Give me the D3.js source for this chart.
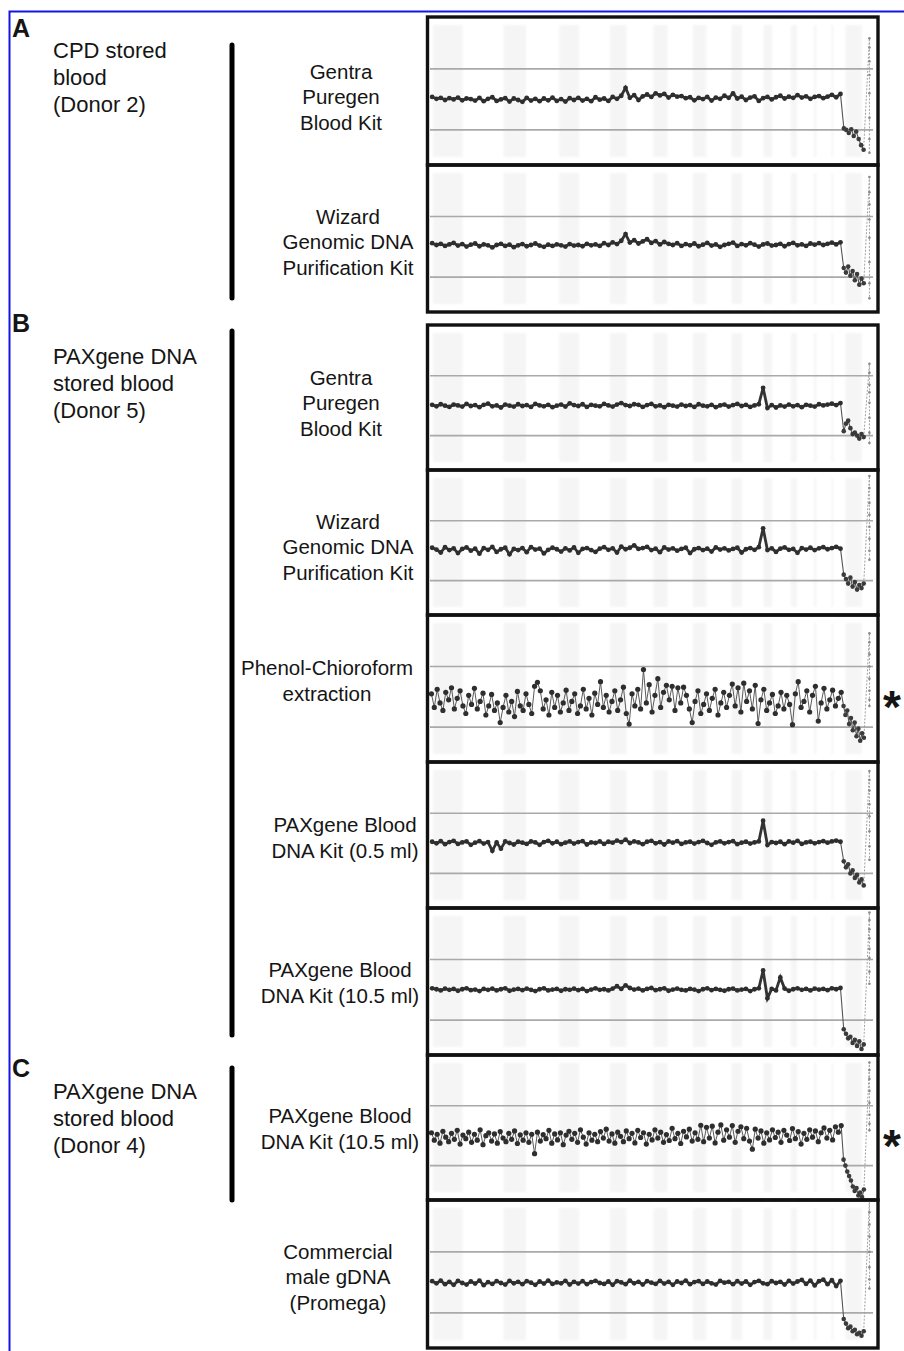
<!DOCTYPE html>
<meta charset="utf-8">
<style>
  body { margin:0; background:#fff; }
  text { font-family: "Liberation Sans", Arial, sans-serif; fill:#151515; }
</style>
<svg width="904" height="1351"></svg>
<script src="https://d3js.org/d3.v7.min.js"></script>
<script>

// chromosome lengths, Mb
var chromosomes = ["1","2","3","4","5","6","7","8","9","10","11","12","13","14","15","16","17","18","19","20","21","22","X","Y"];
var chromLength = [249,243,198,191,181,171,159,146,141,136,135,134,115,107,102,90,83,78,59,63,48,51,155,57];

// reference lines (log2 ratio)
var gridLines = [1, -1];

// log2 ratios: autosomes (evenly spaced), X, Y
var a1Auto = [0.08,0.02,0.05,-0.02,0.04,0.00,0.06,-0.03,0.03,0.01,
  -0.04,0.05,-0.06,0.02,0.07,-0.05,0.00,0.04,-0.07,0.03,
  -0.02,-0.08,0.05,-0.04,0.02,-0.06,0.03,-0.03,0.06,-0.05,
  0.01,-0.07,0.04,-0.02,0.05,-0.04,0.02,-0.06,0.07,-0.01,
  0.03,-0.05,0.08,0.02,0.12,0.38,0.05,0.14,-0.02,0.10,
  0.16,0.08,0.20,0.13,0.18,0.06,0.15,0.09,0.11,0.04,
  0.07,-0.03,0.05,0.01,0.08,-0.04,0.06,0.02,0.12,0.05,
  0.20,0.03,0.09,-0.02,0.06,0.10,-0.05,0.04,0.08,0.00,
  0.07,0.12,0.03,0.09,0.05,0.14,0.06,0.10,0.02,0.08,
  0.11,0.04,0.09,0.15,0.07,0.18];
var a1X = [-0.95,-1.0,-1.1,-0.98,-1.2,-1.05,-1.3,-1.5,-1.65];
var a1Y = [2.0,1.7,1.25,0.8,0.2,-0.6,-1.3,-1.75];

var a2Auto = [0.12,0.06,0.10,0.03,0.08,0.13,0.04,0.09,0.01,0.07,
  0.11,0.02,0.08,0.05,-0.02,0.06,0.10,0.03,0.07,-0.01,
  0.05,0.09,0.02,0.06,0.11,0.04,0.00,0.07,0.03,0.08,
  0.05,0.01,0.09,0.04,0.06,0.02,0.10,0.05,0.08,0.03,
  0.12,0.06,0.15,0.09,0.20,0.42,0.14,0.22,0.11,0.18,
  0.25,0.13,0.19,0.08,0.16,0.10,0.06,0.12,0.03,0.09,
  0.05,0.11,0.02,0.07,0.13,0.04,0.08,0.00,0.06,0.10,
  0.14,0.03,0.09,0.05,0.12,0.07,0.01,0.08,0.11,0.04,
  0.06,0.10,0.02,0.09,0.13,0.05,0.08,0.03,0.11,0.07,
  0.12,0.06,0.10,0.14,0.08,0.15];
var a2X = [-0.7,-0.85,-0.65,-0.95,-0.8,-1.1,-0.9,-1.25,-1.05,-1.2];
var a2Y = [2.3,1.8,1.4,0.9,0.3,-0.5,-1.2,-1.7];

var b1Auto = [0.03,-0.02,0.05,0.00,-0.04,0.04,0.01,-0.03,0.06,-0.01,
  0.02,-0.05,0.03,0.07,-0.02,0.01,-0.06,0.04,0.00,-0.03,
  0.05,-0.01,0.02,-0.04,0.06,0.01,-0.02,0.03,-0.05,0.00,
  0.04,-0.03,0.08,0.02,-0.01,0.05,-0.04,0.03,0.00,-0.02,
  0.06,0.01,-0.03,0.04,0.09,0.02,-0.01,0.05,0.03,-0.04,
  0.02,0.06,-0.02,0.01,-0.05,0.03,0.00,-0.03,0.04,-0.01,
  0.02,-0.04,0.05,0.00,-0.02,0.03,-0.05,0.01,0.04,-0.03,
  0.02,0.06,-0.01,0.03,-0.04,0.01,0.05,0.60,-0.08,0.02,
  -0.06,0.01,-0.03,0.04,-0.02,0.02,-0.05,0.03,0.00,-0.03,
  0.05,0.01,0.04,0.07,0.02,0.09];
var b1X = [-0.85,-0.6,-0.5,-0.75,-0.95,-0.9,-1.0,-1.1,-0.95,-1.05];
var b1Y = [1.4,1.1,0.7,0.45,0.1,-0.4,-0.9,-1.25];

var b2Auto = [0.10,0.04,-0.06,0.12,0.02,0.08,-0.08,0.06,0.11,0.00,
  0.07,-0.10,0.09,0.03,0.13,-0.04,0.05,0.10,-0.12,0.06,
  0.02,0.09,-0.05,0.12,0.04,0.07,-0.09,0.03,0.10,0.05,
  -0.03,0.08,0.01,0.11,-0.07,0.06,0.09,0.02,-0.04,0.07,
  0.12,0.03,0.08,-0.06,0.14,0.05,0.10,0.18,0.06,0.09,
  0.13,0.02,0.07,-0.05,0.11,0.04,0.08,0.00,0.06,0.10,
  -0.08,0.05,0.09,0.02,0.07,-0.03,0.11,0.04,0.08,0.01,
  0.06,0.10,-0.06,0.05,0.09,0.03,0.12,0.75,0.02,0.08,
  -0.04,0.07,0.11,0.03,0.06,-0.07,0.09,0.04,0.10,0.02,
  0.08,0.12,0.05,0.09,0.13,0.07];
var b2X = [-0.8,-0.95,-1.1,-0.9,-1.2,-1.05,-1.3,-1.15,-1.25,-1.1];
var b2Y = [2.5,2.1,1.6,1.2,0.8,0.4,0.0,-0.3];

var b3Auto = [0.10,-0.35,0.25,-0.20,-0.45,0.15,-0.10,0.30,-0.40,-0.05,0.20,-0.30,
  -0.55,0.05,-0.25,0.28,-0.40,-0.15,0.12,-0.60,-0.30,0.08,-0.45,-0.20,
  -0.85,-0.35,0.05,-0.50,-0.15,-0.65,0.18,-0.30,-0.45,0.10,-0.25,-0.55,
  0.35,0.48,0.20,-0.40,-0.10,-0.60,0.15,-0.35,0.05,-0.50,-0.20,0.22,
  -0.45,-0.15,0.10,-0.55,-0.30,0.25,-0.40,-0.05,-0.60,0.12,-0.25,0.50,
  -0.35,0.05,-0.50,-0.15,0.20,-0.45,-0.10,0.32,-0.55,-0.90,0.10,-0.30,
  0.25,-0.40,0.90,-0.20,0.40,-0.50,0.05,0.60,-0.35,0.15,0.38,-0.10,
  0.35,-0.45,0.30,-0.20,0.32,0.05,-0.40,-0.85,-0.15,0.20,-0.55,-0.25,
  0.10,-0.45,-0.05,0.25,-0.60,-0.20,0.15,-0.35,0.05,0.42,-0.30,0.30,
  -0.50,0.45,-0.15,0.20,-0.40,0.38,-0.88,-0.10,0.25,-0.45,-0.20,0.08,
  -0.55,-0.30,0.15,-0.40,0.05,-0.25,-0.92,0.10,0.50,-0.35,-0.15,0.20,
  -0.50,0.05,0.35,-0.80,-0.20,0.28,-0.40,-0.10,0.22,-0.30,-0.05,0.15];
var b3X = [-0.3,-0.6,-0.45,-0.9,-0.7,-1.1,-0.85,-1.3,-1.05,-1.45,-1.2,-1.35];
var b3Y = [2.1,1.8,1.4,1.0,0.6,0.2,-0.1,-0.3];

var b4Auto = [0.05,0.00,0.07,-0.03,0.04,0.08,-0.02,0.03,0.06,-0.05,
  0.02,0.07,-0.01,0.04,-0.25,0.03,-0.18,0.06,0.01,-0.04,
  0.05,0.02,-0.02,0.06,0.03,-0.05,0.04,0.08,0.00,0.05,
  -0.03,0.02,0.06,-0.01,0.04,0.07,-0.04,0.03,0.01,0.06,
  -0.02,0.05,0.02,0.09,0.04,0.12,0.01,0.06,0.03,-0.03,
  0.05,0.08,0.00,0.04,-0.04,0.06,0.02,0.07,-0.02,0.03,
  0.05,-0.01,0.04,0.08,0.01,-0.05,0.03,0.06,0.00,0.04,
  0.07,-0.03,0.02,0.05,-0.01,0.03,0.06,0.75,-0.06,0.04,
  0.01,0.05,-0.03,0.06,0.02,0.08,-0.02,0.03,0.05,0.00,
  0.04,0.07,0.02,0.06,0.09,0.05];
var b4X = [-0.6,-0.8,-0.7,-1.0,-0.9,-1.15,-1.05,-1.3,-1.2,-1.4];
var b4Y = [2.4,2.1,1.75,1.3,0.9,0.4,-0.1,-0.55];

var b5Auto = [0.05,0.02,-0.02,0.04,0.00,0.03,-0.03,0.02,0.05,-0.01,
  0.01,-0.04,0.03,0.00,0.04,-0.02,0.02,0.05,-0.03,0.01,
  0.03,-0.01,0.04,0.00,-0.04,0.02,0.05,-0.02,0.01,0.03,
  -0.03,0.02,0.00,0.04,-0.01,0.03,-0.04,0.01,0.05,0.00,
  0.02,-0.02,0.04,0.12,0.03,0.15,0.06,0.01,0.04,-0.02,
  0.03,0.06,-0.01,0.02,0.05,-0.03,0.01,0.04,0.00,-0.02,
  0.03,0.01,-0.04,0.02,0.05,-0.01,0.03,0.00,-0.03,0.02,
  0.04,-0.02,0.01,0.03,-0.04,0.02,0.05,0.64,-0.28,0.03,
  -0.02,0.41,0.04,-0.03,0.02,0.05,0.00,0.03,-0.02,0.04,
  0.01,0.03,-0.01,0.05,0.02,0.06];
var b5X = [-1.3,-1.45,-1.6,-1.55,-1.75,-1.65,-1.85,-1.7,-1.95,-1.8];
var b5Y = [2.55,2.3,2.0,1.7,1.35,1.05,0.6,0.2];

var c1Auto = [0.10,-0.15,0.05,-0.25,0.15,-0.05,-0.20,0.08,-0.12,0.18,-0.28,0.02,
  -0.10,0.12,-0.22,0.05,-0.15,0.20,-0.30,0.00,0.10,-0.18,0.06,-0.25,
  0.14,-0.08,-0.20,0.08,-0.12,0.16,-0.26,0.03,-0.15,0.10,-0.22,0.05,
  -0.60,0.12,-0.18,0.04,-0.10,0.18,-0.25,0.06,-0.14,0.10,-0.30,0.02,
  0.15,-0.12,0.08,-0.22,0.20,-0.05,-0.28,0.10,-0.15,0.05,-0.20,0.14,
  -0.08,0.22,-0.18,0.06,-0.25,0.12,-0.02,-0.20,0.16,-0.10,0.08,-0.24,
  0.18,-0.06,0.10,-0.28,0.05,-0.14,0.20,-0.08,0.12,-0.22,0.04,-0.16,
  0.25,-0.10,0.08,-0.26,0.15,-0.04,0.22,-0.18,0.10,-0.12,0.35,-0.20,
  0.28,-0.08,0.32,-0.24,0.12,0.36,-0.15,0.20,-0.05,0.34,-0.22,0.15,
  0.30,-0.10,0.25,-0.18,-0.45,0.22,-0.08,0.16,-0.25,0.10,-0.14,0.20,
  -0.06,0.12,-0.22,0.18,0.02,-0.16,0.24,-0.10,0.14,-0.28,0.08,-0.12,
  0.20,-0.05,0.16,-0.20,0.10,0.26,-0.08,0.18,-0.14,0.30,0.12,0.34];
var c1X = [-0.8,-1.0,-1.2,-1.35,-1.5,-1.7,-1.85,-1.75,-2.0,-1.9,-2.05,-1.8];
var c1Y = [2.45,2.2,1.9,1.5,1.1,0.7,0.4,0.18];

var c2Auto = [0.04,-0.03,0.06,-0.06,0.02,-0.08,0.05,-0.02,-0.07,0.03,
  -0.04,0.06,-0.09,0.01,-0.05,0.04,-0.02,-0.07,0.05,-0.03,
  0.02,-0.06,0.04,-0.01,-0.08,0.03,-0.04,0.06,-0.05,0.00,
  -0.03,0.05,-0.07,0.02,-0.04,0.04,-0.06,0.01,0.05,-0.02,
  -0.05,0.03,-0.08,0.04,0.00,-0.06,0.06,-0.03,0.02,-0.07,
  0.04,-0.01,-0.05,0.05,-0.04,0.02,-0.08,0.03,-0.02,0.06,
  -0.06,0.01,0.04,-0.05,0.03,-0.03,-0.07,0.05,-0.01,0.02,
  -0.06,0.04,-0.04,0.03,-0.08,0.01,0.05,-0.03,-0.06,0.04,
  -0.02,0.02,-0.07,0.05,-0.04,0.03,0.08,-0.05,0.06,-0.10,
  0.04,0.09,-0.06,0.07,-0.12,0.05];
var c2X = [-1.2,-1.35,-1.5,-1.45,-1.6,-1.55,-1.7,-1.65,-1.75,-1.6];
var c2Y = [2.7,2.3,1.9,1.5,1.0,0.5,0.1,-0.2];

var rowLabels = [
  ["Gentra","Puregen","Blood Kit"],
  ["Wizard","Genomic DNA","Purification Kit"],
  ["Gentra","Puregen","Blood Kit"],
  ["Wizard","Genomic DNA","Purification Kit"],
  ["Phenol-Chioroform","extraction"],
  ["PAXgene Blood","DNA Kit (0.5 ml)"],
  ["PAXgene Blood","DNA Kit (10.5 ml)"],
  ["PAXgene Blood","DNA Kit (10.5 ml)"],
  ["Commercial","male gDNA","(Promega)"]
];
var groupLetters = ["A","B","C"];
var groupLabels = [
  ["CPD stored","blood","(Donor 2)"],
  ["PAXgene DNA","stored blood","(Donor 5)"],
  ["PAXgene DNA","stored blood","(Donor 4)"]
];
var marked = [false,false,false,false,true,false,false,true,false];

var series = [
  [a1Auto,a1X,a1Y],[a2Auto,a2X,a2Y],[b1Auto,b1X,b1Y],[b2Auto,b2X,b2Y],[b3Auto,b3X,b3Y],
  [b4Auto,b4X,b4Y],[b5Auto,b5X,b5Y],[c1Auto,c1X,c1Y],[c2Auto,c2X,c2Y]
];

// ---- layout ----
var panelTop    = [17,165,325,470,615,762,908,1055,1200];
var panelBottom = [165,312,470,615,762,908,1055,1200,1348];
var labelX      = [341,348,341,348,327,345,340,340,338];
var labelMidY   = [97,242,403,547,681,838,983,1129,1277];
var frameL = 427.5, frameR = 878;

var svg = d3.select("svg");

var starts = [], acc = 0;
chromLength.forEach(function(l){ starts.push(acc); acc += l; });
var autoTotal = starts[22], xStart = starts[22], yStart = starts[23];

var x = d3.scaleLinear().domain([0, acc]).range([430, 873]);

var defs = svg.append("defs");
defs.append("filter").attr("id","soft")
  .append("feGaussianBlur").attr("stdDeviation", 0.7);
defs.append("filter").attr("id","haze")
  .append("feGaussianBlur").attr("stdDeviation", 1.2);

// blue selection border
svg.append("path")
  .attr("d", "M904,11.5H9.5V1351")
  .attr("fill","none").attr("stroke","#1414e6").attr("stroke-width",2);

series.forEach(function(s, p) {
  var y = d3.scaleLinear().domain([-2.15, 2.7]).range([panelBottom[p], panelTop[p]]);
  var g = svg.append("g");

  // alternating chromosome shading (faint)
  g.append("g").attr("filter","url(#haze)")
    .selectAll("rect")
    .data(chromosomes.filter(function(d, i){ return i % 2 === 0 && i < 23; }))
    .enter().append("rect")
      .attr("x", function(d){ var i = chromosomes.indexOf(d); return x(starts[i]) + 3; })
      .attr("width", function(d){ var i = chromosomes.indexOf(d); return Math.max(2, x(starts[i] + chromLength[i]) - x(starts[i]) - 6); })
      .attr("y", panelTop[p] + 8)
      .attr("height", panelBottom[p] - panelTop[p] - 16)
      .attr("fill", "#f5f5f5");

  g.selectAll("line.grid")
    .data(gridLines)
    .enter().append("line")
      .attr("x1", 430).attr("x2", 873)
      .attr("y1", y).attr("y2", y)
      .attr("stroke", "#a9a9a9").attr("stroke-width", 1.6);

  var autoPts = s[0].map(function(v, i){ return [autoTotal * (i + 0.5) / s[0].length, v]; });
  var xPts = s[1].map(function(v, i){ return [xStart + chromLength[22] * (i + 0.5) / s[1].length, v]; });
  var yPts = s[2].map(function(v){ return [yStart + 32, v]; });

  var line = d3.line().x(function(d){ return x(d[0]); }).y(function(d){ return y(d[1]); });
  var dg = g.append("g").attr("filter","url(#soft)");

  // Y chromosome: faint vertical spike
  dg.append("path")
    .attr("d", line([xPts[xPts.length - 1]].concat(yPts)))
    .attr("fill","none").attr("stroke","#a0a0a0").attr("stroke-width",1)
    .attr("stroke-dasharray","2,1.5");
  dg.selectAll("circle.y").data(yPts).enter().append("circle")
    .attr("cx", function(d){ return x(d[0]); }).attr("cy", function(d){ return y(d[1]); })
    .attr("r", 1.3).attr("fill","#8a8a8a");

  var noisy = s[0].length > 100;

  // X chromosome: thin drop then cluster
  dg.append("path")
    .attr("d", line([autoPts[autoPts.length - 1]].concat(xPts)))
    .attr("fill","none").attr("stroke","#555").attr("stroke-width",1.1);
  dg.selectAll("circle.x").data(xPts).enter().append("circle")
    .attr("cx", function(d){ return x(d[0]); }).attr("cy", function(d){ return y(d[1]); })
    .attr("r", 2.3).attr("fill","#3a3a3a");

  // autosomes
  dg.append("path")
    .attr("d", line(autoPts))
    .attr("fill","none").attr("stroke", noisy ? "#5a5a5a" : "#333")
    .attr("stroke-width", noisy ? 1.0 : 2.8);
  dg.selectAll("circle.a").data(autoPts).enter().append("circle")
    .attr("cx", function(d){ return x(d[0]); }).attr("cy", function(d){ return y(d[1]); })
    .attr("r", noisy ? 2.6 : 2.4).attr("fill","#2e2e2e");

  // frame
  svg.append("rect")
    .attr("x", frameL).attr("y", panelTop[p])
    .attr("width", frameR - frameL).attr("height", panelBottom[p] - panelTop[p])
    .attr("fill","none").attr("stroke","#111").attr("stroke-width",3.4);

  // row label
  var lines = rowLabels[p];
  var t0 = labelMidY[p] - (lines.length - 1) * 25.5 / 2 + 7;
  svg.append("g").selectAll("text").data(lines).enter().append("text")
    .attr("x", labelX[p]).attr("y", function(d, i){ return t0 + i * 25.5; })
    .attr("text-anchor","middle").style("font-size","20.5px")
    .text(function(d){ return d; });

  if (marked[p]) {
    svg.append("text")
      .attr("x", 883).attr("y", (panelTop[p] + panelBottom[p]) / 2 + 34)
      .style("font-size","46px").style("font-weight","bold").text("*");
  }
});

// group letters, labels and brackets
var letterY = [37, 332, 1077];
var textY = [58, 364, 1099];
var barY = [[45,298],[331,1035],[1068,1200]];

groupLetters.forEach(function(L, k) {
  svg.append("text").attr("x", 12).attr("y", letterY[k])
    .style("font-size","25px").style("font-weight","bold").text(L);
  svg.append("g").selectAll("text").data(groupLabels[k]).enter().append("text")
    .attr("x", 53).attr("y", function(d, i){ return textY[k] + i * 27; })
    .style("font-size","22px").text(function(d){ return d; });
  svg.append("line")
    .attr("x1", 232).attr("x2", 232).attr("y1", barY[k][0]).attr("y2", barY[k][1])
    .attr("stroke","#000").attr("stroke-width",5).attr("stroke-linecap","round");
});

</script>
